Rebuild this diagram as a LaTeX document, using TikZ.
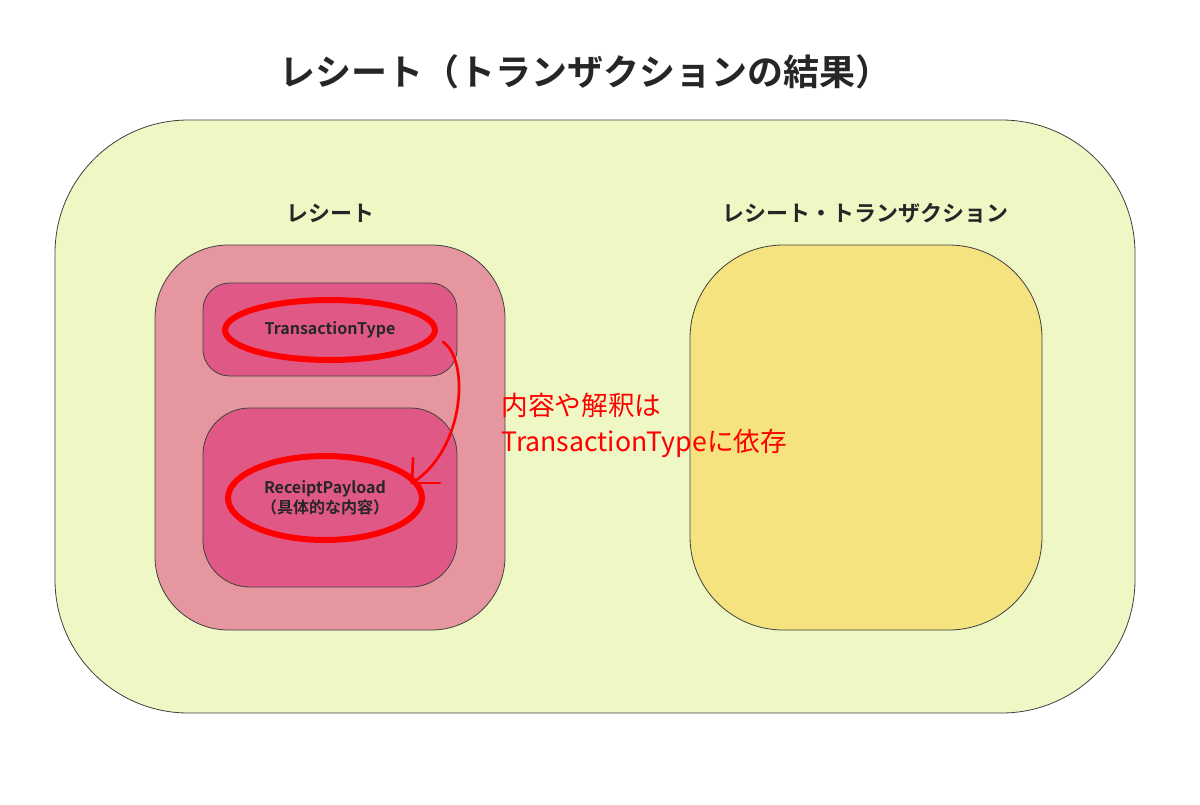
\documentclass[tikz,border=0pt]{standalone}
\usepackage{fontspec}
\setmainfont{Noto Sans CJK JP}
\newfontfamily\jpbold{Noto Sans CJK JP Bold}
\definecolor{outerfill}{HTML}{EFF7C4}
\definecolor{pinkfill}{HTML}{E6969E}
\definecolor{rosefill}{HTML}{E05886}
\definecolor{yellowfill}{HTML}{F4E37E}
\definecolor{inkred}{HTML}{FF0000}
\tikzset{every picture/.style={line width=0.75pt}}
\tikzset{
  box/.style={draw=black!75, line width=0.6pt},
  ring/.style={draw=inkred, line width=4.5pt},
  lbl/.style={inner sep=0.75pt, font=\jpbold\fontsize{12}{15}\selectfont, text=black!85, align=center},
  head/.style={inner sep=0.75pt, font=\jpbold\fontsize{16.5}{20}\selectfont, text=black!85},
  note/.style={inner sep=0.75pt, anchor=west, font=\fontsize{20}{24}\selectfont, text=inkred}
}
\begin{document}
\begin{tikzpicture}[x=0.75pt,y=0.75pt,yscale=-1,xscale=1]
\useasboundingbox (0,0) rectangle (1200,804);
%Title
\node (title) [inner sep=0.75pt, font=\jpbold\fontsize{27}{32}\selectfont, text=black!85] at (585,72) {レシート（トランザクションの結果）};
%Outer frame
\draw [box, fill=outerfill, rounded corners=100] (55,120) rectangle (1135,713);
%Left group
\node (recTitle) [head] at (330,213) {レシート};
\draw [box, fill=pinkfill, rounded corners=55] (155,245) rectangle (505,630);
\draw [box, fill=rosefill, rounded corners=20] (203,283) rectangle (457,376);
\draw [box, fill=rosefill, rounded corners=35] (203,408) rectangle (457,587);
\node (txType) [lbl] at (330,330) {TransactionType};
\node (payload) [lbl] at (325,498) {ReceiptPayload\\（具体的な内容）};
%Right group
\node (rtxTitle) [head] at (865,213) {レシート・トランザクション};
\draw [box, fill=yellowfill, rounded corners=70] (690,245) rectangle (1042,630);
%Red marks
\draw [ring] (txType.center) ellipse [x radius=105, y radius=30];
\draw [ring] (payload.center) ellipse [x radius=97, y radius=42];
\coordinate (arrFrom) at (443,342);
\coordinate (arrTo) at (412,483);
\draw [draw=inkred, line width=2pt, line cap=round] (arrFrom) .. controls (470,360) and (465,450) .. (arrTo);
\draw [draw=inkred, line width=2pt, line cap=round] (arrTo) -- (413,458);
\draw [draw=inkred, line width=2pt, line cap=round] (arrTo) -- (440,483);
\node (noteA) [note] at (500,405) {内容や解釈は};
\node (noteB) [note] at (500,443) {TransactionTypeに依存};
\end{tikzpicture}
\end{document}
